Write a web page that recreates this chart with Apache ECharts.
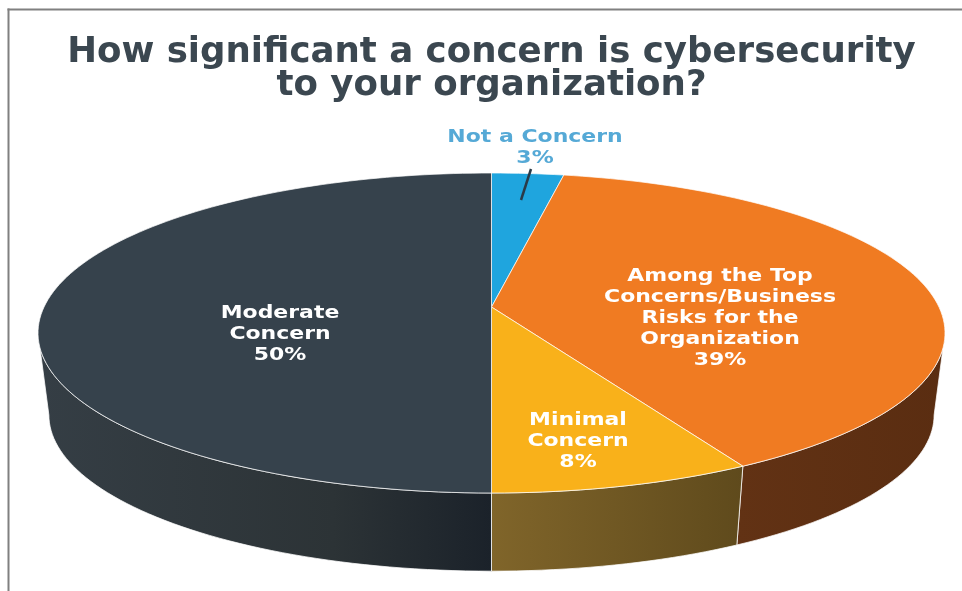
<!DOCTYPE html>
<html>
<head>
<meta charset="utf-8">
<style>html,body{margin:0;padding:0;background:#fff}#chart{width:962px;height:591px}</style>
<script src="https://cdn.jsdelivr.net/npm/echarts@6/dist/echarts.min.js"></script>
</head>
<body>
<div id="chart"></div>
<script>
// Survey responses, clockwise from twelve o'clock
const categories = ['Not a Concern', 'Among the Top Concerns/Business Risks for the Organization', 'Minimal Concern', 'Moderate Concern'];
const shares = [3, 39, 8, 50];
const labelLines = [
  ['Not a Concern'],
  ['Among the Top', 'Concerns/Business', 'Risks for the', 'Organization'],
  ['Minimal', 'Concern'],
  ['Moderate', 'Concern']
];

// Disc seen in perspective: the circle's centre lands above the ellipse's centre
const rim = { cx: 491.5, cy: 333, rx: 453.5, ry: 160, tilt: 26 / 160 };
const base = { cy: 415, scale: 0.976 };

const topColors = ['#1fa5de', '#f07b22', '#f9b11a', '#36424c'];
const sideStops = [
  [[0, '#14688c'], [1, '#14688c']],
  [[0, '#623214'], [1, '#5a2d11']],
  [[0, '#80652a'], [1, '#5f4a1c']],
  [[0, '#353e45'], [0.65, '#2c3336'], [1, '#1b222a']]
];
// Text anchors (centre of each label block) and label colours
const labelAnchors = [[535, 148], [720, 318], [578, 441], [280, 334]];
const labelColors = ['#55a9d6', '#fff', '#fff', '#fff'];
const FONT = 'DejaVu Sans';

const turn = v => echarts.number.linearMap(v, [0, 100], [0, Math.PI * 2]);
const cumulative = shares.reduce((acc, v) => (acc.push(acc[acc.length - 1] + v), acc), [0]);

// Angles between these two show the wall of the disc
const wallFrom = Math.acos(-rim.tilt);
const wallTo = Math.PI * 2 - wallFrom;

function project(theta, onBase) {
  const u = Math.sin(theta), v = Math.cos(theta);
  const d = 1 + rim.tilt * v;
  const x = rim.rx * Math.sqrt(1 - rim.tilt * rim.tilt) * u / d;
  const y = (-rim.ry * v - rim.tilt * rim.ry) / d;
  return onBase
    ? [rim.cx + base.scale * x, base.cy + base.scale * y]
    : [rim.cx + x, rim.cy + y];
}
function arc(a0, a1, onBase) {
  const n = Math.max(8, Math.ceil((a1 - a0) * 40));
  const pts = [];
  for (let k = 0; k <= n; k++) pts.push(project(a0 + (a1 - a0) * k / n, onBase));
  return pts;
}
const apex = () => [rim.cx, rim.cy - rim.tilt * rim.ry];

function renderSide(params) {
  const i = params.dataIndex;
  const a0 = Math.max(turn(cumulative[i]), wallFrom);
  const a1 = Math.min(turn(cumulative[i + 1]), wallTo);
  if (a1 <= a0) return null;
  return {
    type: 'polygon',
    shape: { points: arc(a0, a1, false).concat(arc(a0, a1, true).reverse()) },
    style: {
      fill: new echarts.graphic.LinearGradient(0, 0, 1, 0,
        sideStops[i].map(s => ({ offset: s[0], color: s[1] }))),
      stroke: 'rgba(255,255,255,0.75)',
      lineWidth: 1
    }
  };
}
function renderTop(params) {
  const i = params.dataIndex;
  return {
    type: 'polygon',
    shape: { points: [apex()].concat(arc(turn(cumulative[i]), turn(cumulative[i + 1]), false)) },
    style: { fill: topColors[i], stroke: 'rgba(255,255,255,0.7)', lineWidth: 1 }
  };
}
function renderLabel(params) {
  const i = params.dataIndex;
  return {
    type: 'text',
    x: labelAnchors[i][0],
    y: labelAnchors[i][1],
    scaleX: 1.22,
    style: {
      text: labelLines[i].concat(shares[i] + '%').join('\n'),
      x: 0, y: 0,
      align: 'center', verticalAlign: 'middle',
      fontFamily: FONT, fontWeight: 'bold', fontSize: 18, lineHeight: 21,
      fill: labelColors[i]
    }
  };
}

const chart = echarts.init(document.getElementById('chart'), null, { renderer: 'canvas' });
const rows = shares.map((v, i) => ({ name: categories[i], value: v }));
chart.setOption({
  animation: false,
  backgroundColor: '#fff',
  title: {
    text: 'How significant a concern is cybersecurity\nto your organization?',
    left: 486.5, top: 31,
    textAlign: 'center',
    textStyle: { fontFamily: FONT, fontWeight: 'bold', fontSize: 35.6, lineHeight: 33, color: '#3b4750' }
  },
  graphic: [
    { type: 'line', shape: { x1: 8.5, y1: 9.5, x2: 962, y2: 9.5 }, style: { stroke: '#808080', lineWidth: 2, lineCap: 'square' } },
    { type: 'line', shape: { x1: 8.5, y1: 9.5, x2: 8.5, y2: 591 }, style: { stroke: '#808080', lineWidth: 2, lineCap: 'square' } },
    { type: 'line', z: 10, shape: { x1: 531, y1: 169, x2: 521, y2: 200 }, style: { stroke: '#2a3a48', lineWidth: 2.5 } }
  ],
  series: [
    { type: 'custom', coordinateSystem: 'none', z: 1, clip: false, data: rows, renderItem: renderSide },
    { type: 'custom', coordinateSystem: 'none', z: 2, clip: false, data: rows, renderItem: renderTop },
    { type: 'custom', coordinateSystem: 'none', z: 3, clip: false, data: rows, renderItem: renderLabel }
  ]
});
</script>
</body>
</html>
